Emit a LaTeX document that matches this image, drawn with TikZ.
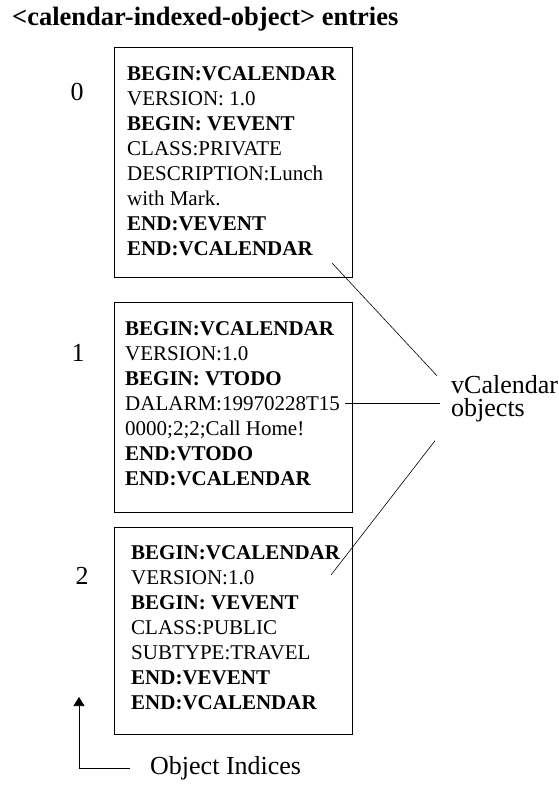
\documentclass[tikz,border=0pt]{standalone}
\usepackage{fontspec}
\setmainfont{Liberation Serif}
\usetikzlibrary{arrows.meta}

\begin{document}
\begin{tikzpicture}[x=1pt, y=-1pt,
    entry/.style={draw, line width=0.8pt, inner sep=0pt, minimum width=238pt, anchor=north west},
    listing/.style={anchor=north west, inner sep=0pt, align=left, font=\fontsize{21}{25}\selectfont},
    caption/.style={inner sep=0pt, font=\fontsize{26}{30}\selectfont}]
  \useasboundingbox (0,0) rectangle (559,788);
  \node [anchor=base west, inner sep=0pt, font=\fontsize{26.5}{30}\selectfont\bfseries] (title) at (12,25) {<calendar-indexed-object> entries};
  % the three entries
  \node [entry, minimum height=230pt] (box0) at (114,47) {};
  \node [entry, minimum height=210pt] (box1) at (114,302) {};
  \node [entry, minimum height=207pt] (box2) at (114,527) {};
  \node [listing] (list0) at (127,66) {\textbf{BEGIN:VCALENDAR}\\VERSION: 1.0\\\textbf{BEGIN: VEVENT}\\CLASS:PRIVATE\\DESCRIPTION:Lunch\\with Mark.\\\textbf{END:VEVENT}\\\textbf{END:VCALENDAR}};
  \node [listing] (list1) at (125,321) {\textbf{BEGIN:VCALENDAR}\\VERSION:1.0\\\textbf{BEGIN: VTODO}\\DALARM:19970228T15\\0000;2;2;Call Home!\\\textbf{END:VTODO}\\\textbf{END:VCALENDAR}};
  \node [listing] (list2) at (131,545) {\textbf{BEGIN:VCALENDAR}\\VERSION:1.0\\\textbf{BEGIN: VEVENT}\\CLASS:PUBLIC\\SUBTYPE:TRAVEL\\\textbf{END:VEVENT}\\\textbf{END:VCALENDAR}};
  % indices
  \node [caption] (idx0) at (77,92) {0};
  \node [caption] (idx1) at (78,353) {1};
  \node [caption] (idx2) at (82,576) {2};
  \node [caption, anchor=base west] (vcal) at (451,393) {vCalendar};
  \node [caption, anchor=base west] (objs) at (451,416) {objects};
  \node [caption, anchor=west] (indices) at (150,768) {Object Indices};
  % connectors
  \coordinate (end0) at (332,263);
  \coordinate (end1) at (345,403);
  \coordinate (end2) at (331,575);
  \coordinate (tip) at (79,697);
  \draw [line width=0.6pt] (end0) -- ([shift={(-14pt,-1pt)}]vcal.north west);
  \draw [line width=0.6pt] (end1) -- ([xshift=-11pt]end1 -| vcal.west);
  \draw [line width=0.6pt] (end2) -- ([shift={(-16pt,-19pt)}]objs.south west);
  \draw [line width=0.6pt, -{Triangle[width=11pt,length=9pt]}] ([xshift=-20pt]indices.west) -| (tip);
\end{tikzpicture}
\end{document}
